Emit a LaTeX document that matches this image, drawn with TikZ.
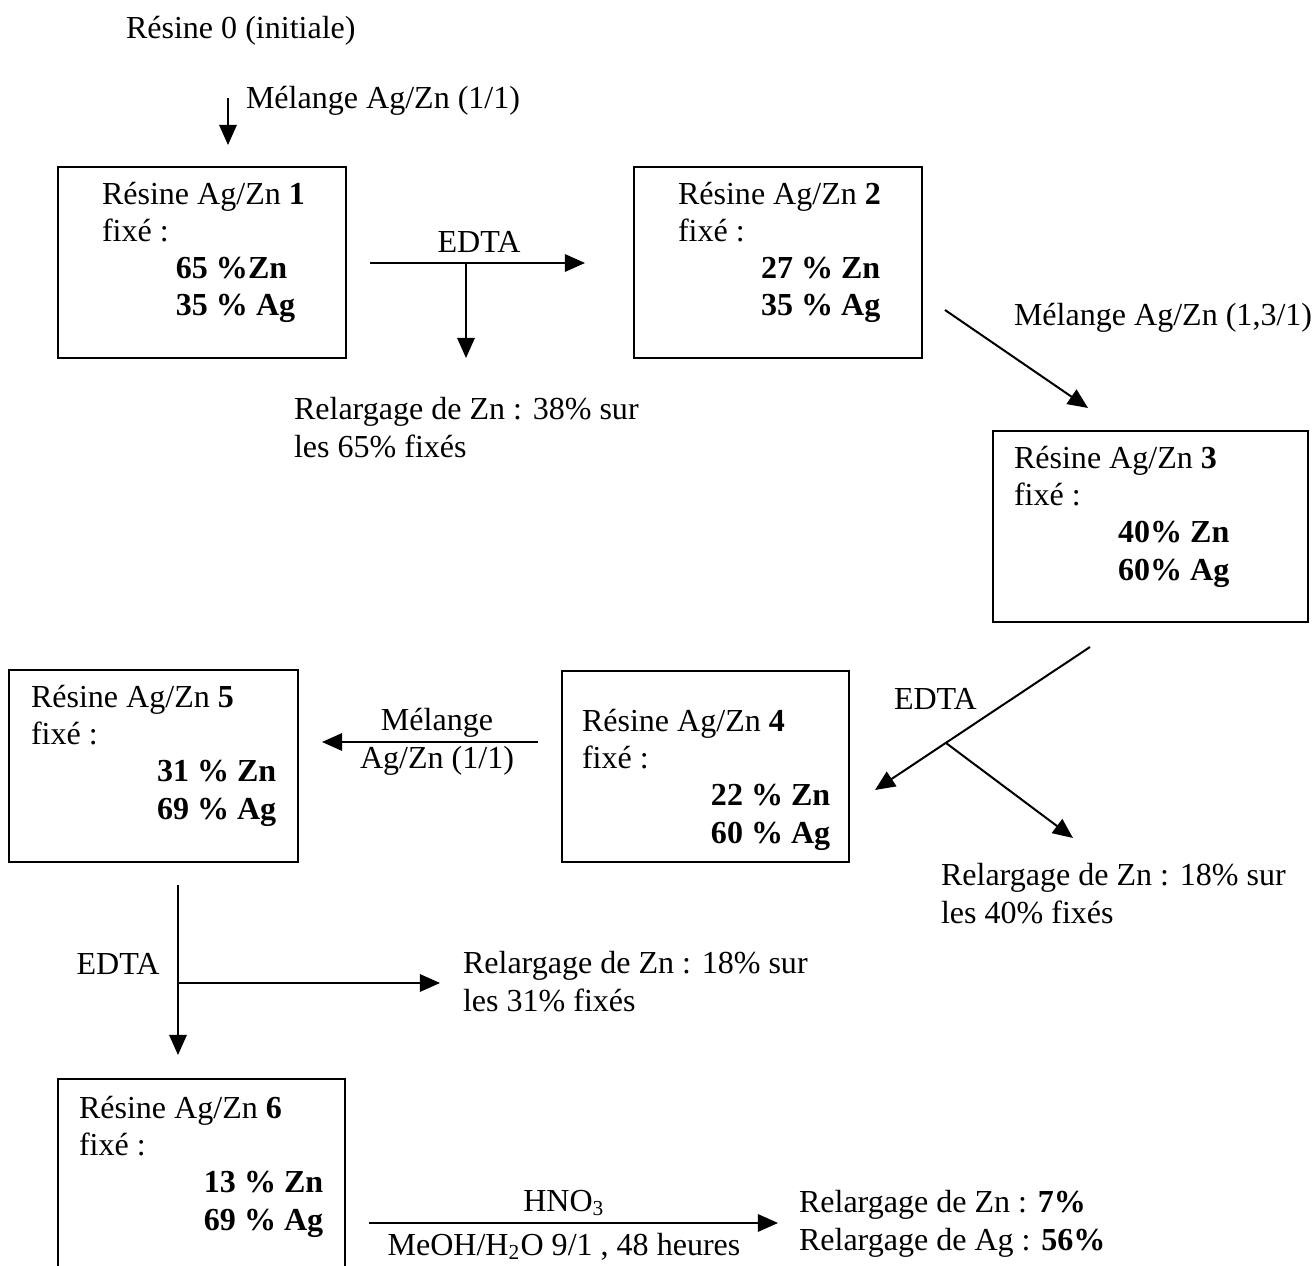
\documentclass[tikz,border=0pt]{standalone}
\usepackage{fontspec}
\setmainfont{Liberation Serif}
\usetikzlibrary{arrows.meta, positioning, fit}
\tikzset{
  every picture/.style={line width=0.75pt},
  frame/.style={draw, inner sep=0pt, outer sep=0pt},
  arrow/.style={-{Triangle[length=7.5pt, width=6.5pt]}},
  txt/.style={font=\fontsize{12}{13.86}\selectfont, inner sep=0pt, align=left},
}

\begin{document}
\begin{tikzpicture}[x=0.3745pt, y=-0.3745pt]
  \clip (0,0) rectangle (1313,1266);
  % boxes
  \node[frame, fit={(58,167) (346,358)}] (b1) {};
  \node[frame, fit={(634,167) (922,358)}] (b2) {};
  \node[frame, fit={(993,431) (1308,622)}] (b3) {};
  \node[frame, fit={(562,671) (849,862)}] (b4) {};
  \node[frame, fit={(9,670) (298,862)}] (b5) {};
  \node[frame, fit={(58,1079) (345,1300)}] (b6) {};
  % box texts (base = last line)
  \node[txt, anchor=base west] (t1) at (101,316) {R\'esine Ag/Zn \textbf{1}\\fix\'e :\\\hspace*{27.7pt}\textbf{65 \%Zn}\\\hspace*{27.7pt}\textbf{35 \% Ag}};
  \node[txt, anchor=base west] (t2) at (677,316) {R\'esine Ag/Zn \textbf{2}\\fix\'e :\\\hspace*{31.1pt}\textbf{27 \% Zn}\\\hspace*{31.1pt}\textbf{35 \% Ag}};
  \node[txt, anchor=base west] (t3) at (1013,580) {R\'esine Ag/Zn \textbf{3}\\fix\'e :\\\hspace*{39pt}\textbf{40\% Zn}\\\hspace*{39pt}\textbf{60\% Ag}};
  \node[txt, anchor=base west] (t4) at (581,843) {R\'esine Ag/Zn \textbf{4}\\fix\'e :\\\hspace*{48.3pt}\textbf{22 \% Zn}\\\hspace*{48.3pt}\textbf{60 \% Ag}};
  \node[txt, anchor=base west] (t5) at (30,819) {R\'esine Ag/Zn \textbf{5}\\fix\'e :\\\hspace*{47.2pt}\textbf{31 \% Zn}\\\hspace*{47.2pt}\textbf{69 \% Ag}};
  \node[txt, anchor=base west] (t6) at (78,1230) {R\'esine Ag/Zn \textbf{6}\\fix\'e :\\\hspace*{46.8pt}\textbf{13 \% Zn}\\\hspace*{46.8pt}\textbf{69 \% Ag}};
  % labels
  \node[txt, anchor=base west] (init) at (125,39) {R\'esine 0 (initiale)};
  \node[txt, anchor=base west] (mel0) at (245,109) {M\'elange Ag/Zn (1/1)};
  \node[txt, anchor=base] (edta1) at (479,253) {EDTA};
  \node[txt, anchor=base west] (rel1) at (293,457) {Relargage de Zn : 38\% sur\\les 65\% fix\'es};
  \node[txt, anchor=base west] (mel13) at (1013,326) {M\'elange Ag/Zn (1,3/1)};
  \node[txt, anchor=base west] (edta2) at (893,709) {EDTA};
  \node[txt, anchor=base west] (rel2) at (940,923) {Relargage de Zn : 18\% sur\\les 40\% fix\'es};
  \node[txt, anchor=base, align=center] (mel3) at (437,768) {M\'elange\\Ag/Zn (1/1)};
  \node[txt, anchor=base] (edta3) at (118,974) {EDTA};
  \node[txt, anchor=base west] (rel3) at (462,1011) {Relargage de Zn : 18\% sur\\les 31\% fix\'es};
  \node[txt, anchor=base] (hno) at (564,1211) {HNO\textsubscript{3}};
  \node[txt, anchor=base] (meoh) at (564,1255) {MeOH/H\textsubscript{2}O 9/1 , 48 heures};
  \node[txt, anchor=base west] (relf) at (798,1250) {Relargage de Zn : \textbf{7\%}\\Relargage de Ag : \textbf{56\%}};
  % arrow ends
  \coordinate (a0s) at (228,98);    \coordinate (a0e) at (228,145);
  \coordinate (e1s) at (370,263);   \coordinate (e1e) at (585,263);
  \coordinate (e1b) at (466,263);   \coordinate (e1d) at (466,358);
  \coordinate (m13s) at (945,310);  \coordinate (m13e) at (1088,408);
  \coordinate (e2s) at (1090,647);  \coordinate (e2e) at (875,790);
  \coordinate (e2b) at (946,743);   \coordinate (e2d) at (1073,838);
  \coordinate (m3s) at (538,742);   \coordinate (m3e) at (322,742);
  \coordinate (e3s) at (178,885);   \coordinate (e3e) at (178,1055);
  \coordinate (e3b) at (178,983);   \coordinate (e3d) at (440,983);
  \coordinate (hs) at (369,1223);   \coordinate (he) at (778,1223);
  \draw[arrow] (a0s) -- (a0e);
  \draw[arrow] (e1s) -- (e1e);
  \draw[arrow] (e1b) -- (e1d);
  \draw[arrow] (m13s) -- (m13e);
  \draw[arrow] (e2s) -- (e2e);
  \draw[arrow] (e2b) -- (e2d);
  \draw[arrow] (m3s) -- (m3e);
  \draw[arrow] (e3s) -- (e3e);
  \draw[arrow] (e3b) -- (e3d);
  \draw[arrow] (hs) -- (he);
\end{tikzpicture}
\end{document}
